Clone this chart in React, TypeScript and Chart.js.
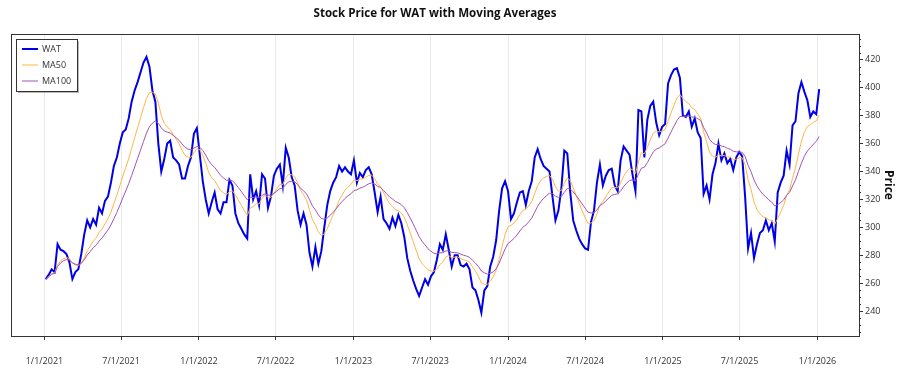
import React, { useEffect, useRef } from "react";
import { Chart, registerables } from "chart.js";

Chart.register(...registerables);

const chartTitle = "Stock Price for WAT with Moving Averages";
const yAxisTitle = "Price";
const seriesNames = ["WAT", "MA50", "MA100"];
const seriesColors = ["#0000e6", "#ffb547", "#a452b6"];
const maSpans = [50, 100];
const firstDate = "1/4/2021";
const daysPerStep = 7;
const tradingDaysPerStep = 5;

// Weekly closing prices
const watPrices = [
  263, 266, 270, 268, 288, 284, 283, 281, 275, 263,
  268, 270, 281, 295, 305, 300, 306, 302, 314, 310,
  319, 322, 332, 344, 350, 360, 368, 370, 378, 390,
  398, 404, 411, 418, 422, 415, 398, 390, 360, 340,
  349, 360, 362, 350, 348, 345, 335, 335, 344, 350,
  367, 371,
  352, 333, 320, 310, 318, 325, 313, 310,
  318, 318, 334, 330, 310, 303, 299, 295, 292, 338,
  320, 326, 316, 338, 335, 314, 322, 337, 342, 345,
  330, 357, 350, 336, 330, 312, 302, 310, 302, 282,
  272, 286, 274, 283, 300, 316, 326, 332, 336, 344,
  340, 343, 340, 338, 348,
  332, 339, 336, 341, 343,
  338, 325, 311, 322, 306, 303, 299, 307, 301, 309,
  303, 293, 278, 269, 262, 256, 251, 257, 263, 259,
  265, 268, 277, 288, 284, 295, 284, 272, 280, 280,
  273, 272, 274, 270, 257, 255, 248, 239, 255, 258,
  272, 279, 291, 312, 328, 333, 326,
  306, 310, 318,
  325, 326, 316, 326, 333, 350, 356, 349, 344, 342,
  340, 322, 305, 312, 328, 355, 353, 325, 305, 298,
  292, 288, 285, 284, 304, 312, 332, 345, 330, 337,
  341, 342, 330, 326, 348, 358, 355, 352, 338, 326,
  384, 383, 350, 377, 387, 390, 375, 366, 372,
  374,
  403, 409, 413, 414, 407, 380, 379, 383, 372, 378,
  368, 364, 324, 330, 320, 338, 346, 360, 348, 353,
  346, 349, 341, 350, 354, 351, 322, 285, 296, 278,
  288, 296, 298, 305, 298, 303, 290, 325, 332, 337,
  355, 345, 373, 376, 396, 404, 397, 391, 379, 383,
  381, 399,
];

const xTickLabels = [
  "1/1/2021", "7/1/2021", "1/1/2022", "7/1/2022", "1/1/2023", "7/1/2023",
  "1/1/2024", "7/1/2024", "1/1/2025", "7/1/2025", "1/1/2026",
];
const yTickValues = [240, 260, 280, 300, 320, 340, 360, 380, 400, 420];
const yMinorStep = 5;
const xAxisMin = "10/14/2020";
const xAxisMax = "4/9/2026";
const yAxisMin = 222.3;
const yAxisMax = 438.4;

const FONT = "'Open Sans', 'Noto Sans', sans-serif";

function dayNumber(mdy: string): number {
  const [m, d, y] = mdy.split("/").map(Number);
  return Date.UTC(y, m - 1, d) / 86400000;
}

function ema(values: number[], span: number): number[] {
  const keep = Math.pow(1 - 2 / (span + 1), tradingDaysPerStep);
  let num = 0;
  let den = 0;
  return values.map((v) => {
    num = v + keep * num;
    den = 1 + keep * den;
    return num / den;
  });
}

const decorPlugin = {
  id: "decor",
  afterDraw(chart: any) {
    const { ctx, chartArea: a, scales } = chart;
    ctx.save();
    // plot frame
    ctx.strokeStyle = "#333";
    ctx.lineWidth = 1;
    ctx.strokeRect(Math.round(a.left) + 0.5, Math.round(a.top) + 0.5, Math.round(a.right - a.left), Math.round(a.bottom - a.top));
    // minor ticks on right axis
    const ys = scales.y;
    ctx.beginPath();
    for (let v = Math.ceil(yAxisMin / yMinorStep) * yMinorStep; v <= yAxisMax; v += yMinorStep) {
      if (yTickValues.includes(v)) continue;
      const py = Math.round(ys.getPixelForValue(v)) + 0.5;
      ctx.moveTo(Math.round(a.right), py);
      ctx.lineTo(Math.round(a.right) + 2, py);
    }
    ctx.stroke();
    // title
    ctx.fillStyle = "#111";
    ctx.font = `bold 11.6px ${FONT}`;
    ctx.textAlign = "center";
    ctx.textBaseline = "middle";
    ctx.fillText(chartTitle, (a.left + a.right) / 2, 14);
    // legend
    const lx = a.left + 5;
    const ly = a.top + 5;
    const lw = 61;
    const lh = 52;
    ctx.fillStyle = "rgba(0,0,0,0.28)";
    ctx.fillRect(lx + 2, ly + 2, lw, lh);
    ctx.fillStyle = "#fff";
    ctx.fillRect(lx, ly, lw, lh);
    ctx.strokeStyle = "#333";
    ctx.strokeRect(lx + 0.5, ly + 0.5, lw, lh);
    ctx.font = `9px ${FONT}`;
    ctx.textAlign = "left";
    ctx.fillStyle = "#333";
    seriesNames.forEach((name, i) => {
      const ry = ly + 10 + i * 16;
      ctx.strokeStyle = seriesColors[i];
      ctx.lineWidth = i === 0 ? 2 : 1;
      ctx.beginPath();
      ctx.moveTo(lx + 6, ry);
      ctx.lineTo(lx + 22, ry);
      ctx.stroke();
      ctx.fillText(name, lx + 26, ry + 0.5);
    });
    ctx.restore();
  },
};

export default function App() {
  const canvasRef = useRef<HTMLCanvasElement | null>(null);

  useEffect(() => {
    document.body.style.margin = "0";
    const canvas = canvasRef.current;
    if (!canvas) return;
    const base = dayNumber(xTickLabels[0]);
    const startDay = dayNumber(firstDate) - base;
    const xs = watPrices.map((_, i) => startDay + i * daysPerStep);
    const ma50 = ema(watPrices, maSpans[0]);
    const ma100 = ema(watPrices, maSpans[1]);
    const tickDays = xTickLabels.map((l) => dayNumber(l) - base);
    const labelMap = new Map<number, string>();
    tickDays.forEach((d, i) => labelMap.set(d, xTickLabels[i]));

    const chart = new Chart(canvas, {
      type: "line",
      data: {
        datasets: [
          {
            label: seriesNames[0],
            data: xs.map((x, i) => ({ x, y: watPrices[i] })),
            borderColor: seriesColors[0],
            borderWidth: 2,
            pointRadius: 0,
            tension: 0,
            order: 2,
          },
          {
            label: seriesNames[1],
            data: xs.map((x, i) => ({ x, y: ma50[i] })),
            borderColor: seriesColors[1],
            borderWidth: 1,
            pointRadius: 0,
            tension: 0,
            order: 1,
          },
          {
            label: seriesNames[2],
            data: xs.map((x, i) => ({ x, y: ma100[i] })),
            borderColor: seriesColors[2],
            borderWidth: 1,
            pointRadius: 0,
            tension: 0,
            order: 0,
          },
        ],
      },
      options: {
        responsive: false,
        animation: false,
        events: [],
        layout: { padding: { left: 11, top: 34, right: 0, bottom: 0 } },
        plugins: {
          legend: { display: false },
          title: { display: false },
          tooltip: { enabled: false },
        },
        scales: {
          x: {
            type: "linear",
            position: "bottom",
            min: dayNumber(xAxisMin) - base,
            max: dayNumber(xAxisMax) - base,
            afterBuildTicks: (s: any) => {
              s.ticks = tickDays.map((v) => ({ value: v }));
            },
            afterFit: (s: any) => {
              s.height = 39;
            },
            ticks: {
              autoSkip: false,
              maxRotation: 0,
              padding: 16,
              color: "#333",
              font: { family: FONT, size: 9 },
              callback: (v: any) => labelMap.get(Number(v)) ?? "",
            },
            grid: { color: "#ebebeb", tickColor: "#333", tickLength: 4 },
            border: { display: false },
          },
          y: {
            type: "linear",
            position: "right",
            min: yAxisMin,
            max: yAxisMax,
            afterBuildTicks: (s: any) => {
              s.ticks = yTickValues.map((v) => ({ value: v }));
            },
            afterFit: (s: any) => {
              s.width = 41;
            },
            ticks: {
              padding: 2,
              color: "#333",
              font: { family: FONT, size: 9 },
              callback: (v: any) => String(v),
            },
            grid: { drawOnChartArea: false, tickColor: "#333", tickLength: 4 },
            border: { display: false },
            title: {
              display: true,
              text: yAxisTitle,
              color: "#111",
              font: { family: FONT, size: 12, weight: "bold" },
              padding: { top: 4, bottom: 0 },
            },
          },
        },
      },
      plugins: [decorPlugin],
    } as any);

    return () => chart.destroy();
  }, []);

  return <canvas ref={canvasRef} width={900} height={375} style={{ display: "block" }} />;
}
